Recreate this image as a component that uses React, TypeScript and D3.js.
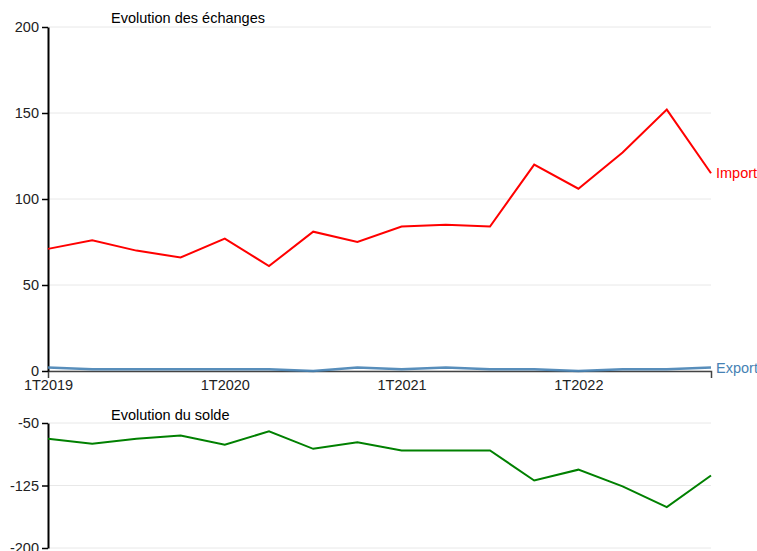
import React, { useEffect, useRef } from "react";
import * as d3 from "d3";

const quarters = [
  "1T2019", "2T2019", "3T2019", "4T2019",
  "1T2020", "2T2020", "3T2020", "4T2020",
  "1T2021", "2T2021", "3T2021", "4T2021",
  "1T2022", "2T2022", "3T2022", "4T2022",
];
const importValues = [71, 76, 70, 66, 77, 61, 81, 75, 84, 85, 84, 120, 106, 127, 152, 115];
const exportValues = [2, 1, 1, 1, 1, 1, 0, 2, 1, 2, 1, 1, 0, 1, 1, 2];
const soldeValues = [-69, -75, -69, -65, -76, -60, -81, -73, -83, -83, -83, -119, -106, -126, -151, -113];
const topTicks = [0, 50, 100, 150, 200];
const bottomTicks = [-200, -125, -50];

const W = 757;
const H = 551;
const FONT = "Liberation Sans, Arial, sans-serif";

export default function App() {
  const svgRef = useRef<SVGSVGElement>(null);

  useEffect(() => {
    if (!svgRef.current) return;
    const svg = d3.select(svgRef.current);
    svg.selectAll("*").remove();

    const left = 48;
    const right = 711;
    const x = d3.scalePoint<string>().domain(quarters).range([left, right]);
    const yTop = d3.scaleLinear().domain([0, 200]).range([371, 27]);
    const yBot = d3.scaleLinear().domain([-200, -50]).range([548, 423]);

    // grid lines
    const grid = (g: d3.Selection<SVGGElement, unknown, null, undefined>, ticks: number[], y: d3.ScaleLinear<number, number>) => {
      g.selectAll("line")
        .data(ticks)
        .enter()
        .append("line")
        .attr("x1", left)
        .attr("x2", right)
        .attr("y1", (d) => y(d))
        .attr("y2", (d) => y(d))
        .attr("stroke", "#e8e8e8")
        .attr("stroke-width", 1);
    };
    grid(svg.append("g"), topTicks, yTop);
    grid(svg.append("g"), bottomTicks, yBot);

    const styleAxis = (g: d3.Selection<SVGGElement, unknown, null, undefined>) => {
      g.selectAll("text").style("font-family", FONT).style("font-size", "14.5px").attr("fill", "#222");
    };

    // x axis
    const xAxis = svg
      .append("g")
      .attr("transform", `translate(0,${yTop(0)})`)
      .call(
        d3
          .axisBottom(x)
          .tickValues(quarters.filter((q) => q.startsWith("1T")))
          .tickSizeInner(0)
          .tickSizeOuter(7)
          .tickPadding(9)
      );
    xAxis.select(".domain").attr("stroke", "#444").attr("stroke-width", 1.5);
    styleAxis(xAxis);

    // top y axis
    const yAxisTop = svg
      .append("g")
      .attr("transform", `translate(${left},0)`)
      .call(d3.axisLeft(yTop).tickValues(topTicks).tickFormat((d) => String(d)).tickSizeOuter(0));
    yAxisTop.select(".domain").attr("stroke", "#000").attr("stroke-width", 2);
    yAxisTop.selectAll(".tick line").attr("stroke", "#000").attr("stroke-width", 1.5);
    styleAxis(yAxisTop);

    // bottom y axis
    const yAxisBot = svg
      .append("g")
      .attr("transform", `translate(${left},0)`)
      .call(d3.axisLeft(yBot).tickValues(bottomTicks).tickFormat((d) => String(d)).tickSizeOuter(0));
    yAxisBot.select(".domain").attr("stroke", "#000").attr("stroke-width", 2);
    yAxisBot.selectAll(".tick line").attr("stroke", "#000").attr("stroke-width", 1.5);
    styleAxis(yAxisBot);

    const lineTop = d3
      .line<number>()
      .x((_d, i) => x(quarters[i]) as number)
      .y((d) => yTop(d));
    const lineBot = d3
      .line<number>()
      .x((_d, i) => x(quarters[i]) as number)
      .y((d) => yBot(d));

    svg
      .append("path")
      .datum(exportValues)
      .attr("d", lineTop)
      .attr("fill", "none")
      .attr("stroke", "steelblue")
      .attr("stroke-width", 2.5)
      .attr("stroke-opacity", 0.9);

    svg
      .append("path")
      .datum(importValues)
      .attr("d", lineTop)
      .attr("fill", "none")
      .attr("stroke", "red")
      .attr("stroke-width", 2);

    svg
      .append("path")
      .datum(soldeValues)
      .attr("d", lineBot)
      .attr("fill", "none")
      .attr("stroke", "green")
      .attr("stroke-width", 2);

    const last = quarters.length - 1;
    svg
      .append("text")
      .attr("x", (x(quarters[last]) as number) + 5)
      .attr("y", yTop(importValues[last]))
      .attr("dy", "0.35em")
      .attr("fill", "red")
      .style("font-family", FONT)
      .style("font-size", "14.5px")
      .text("Import");
    svg
      .append("text")
      .attr("x", (x(quarters[last]) as number) + 5)
      .attr("y", yTop(exportValues[last]))
      .attr("dy", "0.35em")
      .attr("fill", "steelblue")
      .style("font-family", FONT)
      .style("font-size", "14.5px")
      .text("Export");

    svg
      .append("text")
      .attr("x", 111)
      .attr("y", 23)
      .attr("fill", "#000")
      .style("font-family", FONT)
      .style("font-size", "14.5px")
      .text("Evolution des échanges");
    svg
      .append("text")
      .attr("x", 111)
      .attr("y", 420)
      .attr("fill", "#000")
      .style("font-family", FONT)
      .style("font-size", "14.5px")
      .text("Evolution du solde");
  }, []);

  return (
    <svg
      ref={svgRef}
      width={W}
      height={H}
      style={{ position: "absolute", left: 0, top: 0, background: "#fff" }}
    />
  );
}
